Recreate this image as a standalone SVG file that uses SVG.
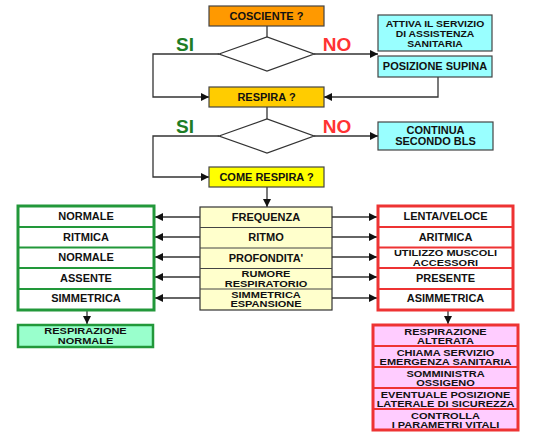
<svg xmlns="http://www.w3.org/2000/svg" width="550" height="437" viewBox="0 0 550 437">
<defs>
<style>
text{font-family:"Liberation Sans",Arial,Helvetica,sans-serif;font-weight:bold;text-anchor:middle;fill:#111}
.a{font-size:10px}
.b{font-size:8.6px}
.c{font-size:8.8px}
.big{font-size:19px}
.si{fill:#1e7d24}
.no{fill:#ff3333}
.box{stroke:#444;stroke-width:1.2}
.ln{fill:none;stroke:#333;stroke-width:1.3}
.grn{stroke:#22983a;stroke-width:3;fill:#fff}
.gsep{stroke:#22983a;stroke-width:2}
.red{stroke:#ee3333;stroke-width:3;fill:#fff}
.rsep{stroke:#ee3333;stroke-width:2}
.ysep{stroke:#444;stroke-width:1}
</style>
<marker id="ah" viewBox="0 0 10 10" refX="10" refY="5" markerWidth="9" markerHeight="8" markerUnits="userSpaceOnUse" orient="auto">
<path d="M0,0 L10,5 L0,10 Z" fill="#111"/>
</marker>
</defs>
<rect width="550" height="437" fill="#fff"/>

<g id="connectors">
<line class="ln" x1="267" y1="26" x2="267" y2="37"/>
<polyline class="ln" points="219,54 153,54 153,97 209,97" marker-end="url(#ah)"/>
<line class="ln" x1="314" y1="54" x2="378" y2="54" marker-end="url(#ah)"/>
<polyline class="ln" points="438,77 438,97 324,97" marker-end="url(#ah)"/>
<line class="ln" x1="267" y1="107" x2="267" y2="119"/>
<polyline class="ln" points="219,136 153,136 153,177 209,177" marker-end="url(#ah)"/>
<line class="ln" x1="314" y1="136" x2="378" y2="136" marker-end="url(#ah)"/>
<line class="ln" x1="267" y1="187" x2="267" y2="207" marker-end="url(#ah)"/>
<line class="ln" x1="200" y1="217" x2="155" y2="217" marker-end="url(#ah)"/>
<line class="ln" x1="200" y1="237" x2="155" y2="237" marker-end="url(#ah)"/>
<line class="ln" x1="200" y1="257" x2="155" y2="257" marker-end="url(#ah)"/>
<line class="ln" x1="200" y1="277" x2="155" y2="277" marker-end="url(#ah)"/>
<line class="ln" x1="200" y1="298" x2="155" y2="298" marker-end="url(#ah)"/>
<line class="ln" x1="332" y1="217" x2="377" y2="217" marker-end="url(#ah)"/>
<line class="ln" x1="332" y1="237" x2="377" y2="237" marker-end="url(#ah)"/>
<line class="ln" x1="332" y1="257" x2="377" y2="257" marker-end="url(#ah)"/>
<line class="ln" x1="332" y1="277" x2="377" y2="277" marker-end="url(#ah)"/>
<line class="ln" x1="332" y1="298" x2="377" y2="298" marker-end="url(#ah)"/>
<line class="ln" x1="87" y1="311" x2="87" y2="324" marker-end="url(#ah)"/>
<line class="ln" x1="448" y1="311" x2="448" y2="324" marker-end="url(#ah)"/>
</g>

<g id="cosciente">
<rect class="box" x="209" y="6" width="115" height="20" fill="#ff9900"/>
<text class="a" transform="translate(266.5,19.5) scale(1.1,1)">COSCIENTE ?</text>
</g>
<g id="decision1">
<polygon points="219,54 267,37 314,54 267,71" fill="#fff" stroke="#333" stroke-width="1.3"/>
<text class="big si" x="185" y="51">SI</text>
<text class="big no" x="337" y="51">NO</text>
</g>
<g id="attiva">
<rect class="box" x="378" y="15" width="114" height="36" fill="#99ffff"/>
<text class="c" transform="translate(435,26.5) scale(1.18,1)">ATTIVA IL SERVIZIO</text>
<text class="c" transform="translate(435,36.5) scale(1.18,1)">DI ASSISTENZA</text>
<text class="c" transform="translate(435,46.5) scale(1.18,1)">SANITARIA</text>
</g>
<g id="supina">
<rect class="box" x="378" y="56" width="114" height="21" fill="#99ffff"/>
<text class="a" transform="translate(435,70) scale(1.1,1)">POSIZIONE SUPINA</text>
</g>
<g id="respira">
<rect class="box" x="209" y="87" width="115" height="20" fill="#ffcc00"/>
<text class="a" transform="translate(266.5,100.5) scale(1.1,1)">RESPIRA ?</text>
</g>
<g id="decision2">
<polygon points="219,136 267,119 314,136 267,153" fill="#fff" stroke="#333" stroke-width="1.3"/>
<text class="big si" x="185" y="133">SI</text>
<text class="big no" x="337" y="133">NO</text>
</g>
<g id="continua">
<rect class="box" x="378" y="122" width="115" height="28" fill="#99ffff"/>
<text class="a" transform="translate(435.5,133.5) scale(1.1,1)">CONTINUA</text>
<text class="a" transform="translate(435.5,145) scale(1.1,1)">SECONDO BLS</text>
</g>
<g id="come-respira">
<rect class="box" x="209" y="167" width="115" height="20" fill="#ffff00"/>
<text class="a" transform="translate(266.5,180.5) scale(1.1,1)">COME RESPIRA ?</text>
</g>

<g id="parametri">
<rect x="200" y="207" width="132" height="103" fill="#ffffcc" stroke="#333" stroke-width="1.2"/>
<line class="ysep" x1="200" y1="227.5" x2="332" y2="227.5"/>
<line class="ysep" x1="200" y1="248" x2="332" y2="248"/>
<line class="ysep" x1="200" y1="268.5" x2="332" y2="268.5"/>
<line class="ysep" x1="200" y1="289" x2="332" y2="289"/>
<text class="a" transform="translate(266,220.5) scale(1.1,1)">FREQUENZA</text>
<text class="a" transform="translate(266,241) scale(1.1,1)">RITMO</text>
<text class="a" transform="translate(266,261.5) scale(1.1,1)">PROFONDITA'</text>
<text class="b" transform="translate(266,277.2) scale(1.28,1)">RUMORE</text>
<text class="b" transform="translate(266,286.9) scale(1.28,1)">RESPIRATORIO</text>
<text class="b" transform="translate(266,297.7) scale(1.28,1)">SIMMETRICA</text>
<text class="b" transform="translate(266,307.4) scale(1.28,1)">ESPANSIONE</text>
</g>

<g id="normale">
<rect class="grn" x="18" y="206" width="136" height="104"/>
<line class="gsep" x1="18" y1="227" x2="154" y2="227"/>
<line class="gsep" x1="18" y1="247.5" x2="154" y2="247.5"/>
<line class="gsep" x1="18" y1="268" x2="154" y2="268"/>
<line class="gsep" x1="18" y1="289" x2="154" y2="289"/>
<text class="a" transform="translate(86,220) scale(1.1,1)">NORMALE</text>
<text class="a" transform="translate(86,240.5) scale(1.1,1)">RITMICA</text>
<text class="a" transform="translate(86,261) scale(1.1,1)">NORMALE</text>
<text class="a" transform="translate(86,281.5) scale(1.1,1)">ASSENTE</text>
<text class="a" transform="translate(86,302) scale(1.1,1)">SIMMETRICA</text>
</g>

<g id="alterata">
<rect class="red" x="378" y="206" width="135" height="104"/>
<line class="rsep" x1="378" y1="227" x2="513" y2="227"/>
<line class="rsep" x1="378" y1="247.5" x2="513" y2="247.5"/>
<line class="rsep" x1="378" y1="268" x2="513" y2="268"/>
<line class="rsep" x1="378" y1="289" x2="513" y2="289"/>
<text class="a" transform="translate(445.5,220) scale(1.1,1)">LENTA/VELOCE</text>
<text class="a" transform="translate(445.5,240.5) scale(1.1,1)">ARITMICA</text>
<text class="b" transform="translate(445.5,256.3) scale(1.28,1)">UTILIZZO MUSCOLI</text>
<text class="b" transform="translate(445.5,266) scale(1.28,1)">ACCESSORI</text>
<text class="a" transform="translate(445.5,281.5) scale(1.1,1)">PRESENTE</text>
<text class="a" transform="translate(445.5,302) scale(1.1,1)">ASIMMETRICA</text>
</g>

<g id="resp-normale">
<rect x="18" y="325" width="135" height="22" fill="#99ffcc" stroke="#22983a" stroke-width="2.5"/>
<text class="b" transform="translate(85.5,334.3) scale(1.28,1)">RESPIRAZIONE</text>
<text class="b" transform="translate(85.5,344) scale(1.28,1)">NORMALE</text>
</g>

<g id="resp-alterata">
<rect x="373" y="325" width="145" height="105" fill="#ffccff" stroke="#ee3333" stroke-width="3"/>
<line class="rsep" x1="373" y1="346" x2="518" y2="346"/>
<line class="rsep" x1="373" y1="367" x2="518" y2="367"/>
<line class="rsep" x1="373" y1="388" x2="518" y2="388"/>
<line class="rsep" x1="373" y1="409" x2="518" y2="409"/>
<text class="b" transform="translate(445.5,334.5) scale(1.28,1)">RESPIRAZIONE</text>
<text class="b" transform="translate(445.5,344.2) scale(1.28,1)">ALTERATA</text>
<text class="b" transform="translate(445.5,355.5) scale(1.28,1)">CHIAMA SERVIZIO</text>
<text class="b" transform="translate(445.5,365.2) scale(1.28,1)">EMERGENZA SANITARIA</text>
<text class="b" transform="translate(445.5,376.5) scale(1.28,1)">SOMMINISTRA</text>
<text class="b" transform="translate(445.5,386.2) scale(1.28,1)">OSSIGENO</text>
<text class="b" transform="translate(445.5,397.5) scale(1.28,1)">EVENTUALE POSIZIONE</text>
<text class="b" transform="translate(445.5,407.2) scale(1.28,1)">LATERALE DI SICUREZZA</text>
<text class="b" transform="translate(445.5,418.5) scale(1.28,1)">CONTROLLA</text>
<text class="b" transform="translate(445.5,428) scale(1.28,1)">I PARAMETRI VITALI</text>
</g>
</svg>
